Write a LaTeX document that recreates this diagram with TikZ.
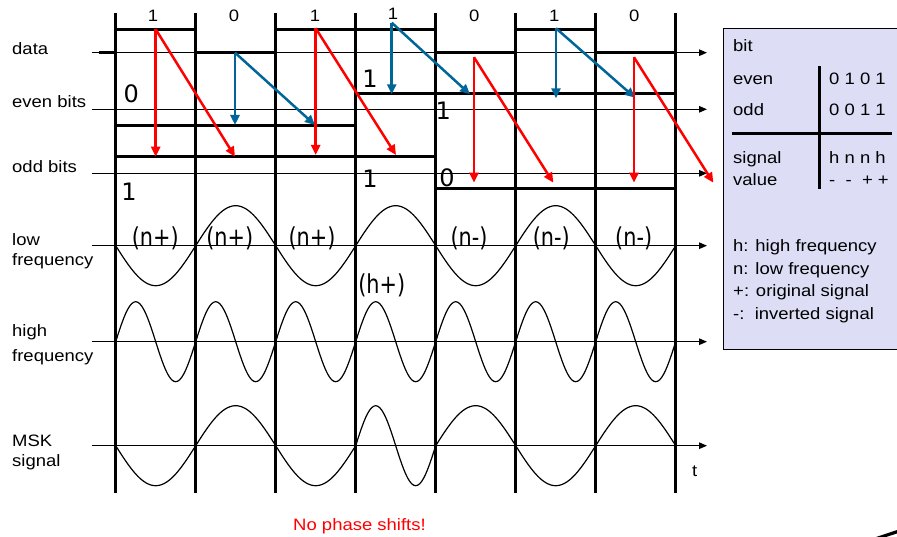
\documentclass[tikz,border=0pt]{standalone}
\usepackage{fontspec}
\setmainfont[FakeStretch=1.12]{Liberation Sans}
\newfontfamily\labfont[FakeStretch=0.8]{DejaVu Sans}
\newfontfamily\digfont{DejaVu Sans}
\usetikzlibrary{arrows.meta}
\definecolor{myred}{RGB}{255,0,0}
\definecolor{myblue}{RGB}{0,102,153}
\definecolor{boxfill}{RGB}{221,221,246}
\tikzset{
  txt/.style={font=\fontsize{16.5}{19}\selectfont, inner sep=0pt, anchor=base west},
  bitlbl/.style={font=\fontsize{16.5}{19}\selectfont, inner sep=0pt, anchor=base},
  biglbl/.style={font=\labfont\fontsize{26}{30}\selectfont, inner sep=0pt},
  diglbl/.style={font=\digfont\fontsize{24}{28}\selectfont, inner sep=0pt},
  sigline/.style={line width=2.7pt},
  gridline/.style={line width=2.5pt},
  axisline/.style={line width=1.2pt, -{Triangle[length=8pt,width=6.5pt]}},
  wave/.style={line width=1.2pt},
  redarr/.style={myred, line width=2.5pt, -{Triangle[length=10pt,width=9pt]}},
  bluearr/.style={myblue, line width=2.5pt, -{Triangle[length=10pt,width=9pt]}}
}
\begin{document}
\begin{tikzpicture}[x=1pt,y=-1pt]
\useasboundingbox (0,0) rectangle (897,537);

% bit boundaries
\foreach \i in {0,...,7}
  \draw[gridline] ({115.7+80*\i},13) -- ({115.7+80*\i},493);

% axes
\foreach \yy in {52.7,109.3,173.3,245.7,341.7,445.7}
  \draw[axisline] (91.7,\yy) -- (707,\yy);

% waves
\draw[wave] plot[domain=115.7:675.7, samples=281] (\x,{245.7+40*sin(2.25*(\x-115.7))});
\draw[wave] plot[domain=115.7:675.7, samples=281] (\x,{341.7-40*sin(4.5*(\x-115.7))});
\draw[wave] plot[domain=115.7:355.7, samples=121] (\x,{445.7+40*sin(2.25*(\x-115.7))});
\draw[wave] plot[domain=355.7:435.7, samples=41] (\x,{445.7-40*sin(4.5*(\x-355.7))});
\draw[wave] plot[domain=435.7:675.7, samples=121] (\x,{445.7-40*sin(2.25*(\x-115.7))});

% digital signals
\draw[sigline] (99,52.7) -- (115.7,52.7) -- (115.7,29.3) -- (195.7,29.3) -- (195.7,52.7)
  -- (275.7,52.7) -- (275.7,29.3) -- (435.7,29.3) -- (435.7,52.7) -- (515.7,52.7)
  -- (515.7,29.3) -- (595.7,29.3) -- (595.7,52.7) -- (675.7,52.7);
\draw[sigline] (114.5,125.3) -- (355.7,125.3) -- (355.7,93.3) -- (676.5,93.3);
\draw[sigline] (114.5,156.7) -- (435.7,156.7) -- (435.7,188.7) -- (676.5,188.7);

% arrow end points
\coordinate (a1) at (155.7,29.3);  \coordinate (a1v) at (155.7,156.7); \coordinate (a1d) at (235,156.7);
\coordinate (a2) at (235,52.7);    \coordinate (a2v) at (235,125);     \coordinate (a2d) at (315,125);
\coordinate (a3) at (315.7,28.3);  \coordinate (a3v) at (315.7,155);   \coordinate (a3d) at (396,155);
\coordinate (a4) at (391.7,22.7);  \coordinate (a4v) at (391.7,94.3);  \coordinate (a4d) at (470,94.3);
\coordinate (a5) at (474,57.3);    \coordinate (a5v) at (474,182.7);   \coordinate (a5d) at (553.3,182.7);
\coordinate (a6) at (556,28.3);    \coordinate (a6v) at (556,98.3);    \coordinate (a6d) at (635,97.7);
\coordinate (a7) at (634,57.3);    \coordinate (a7v) at (634,182.7);   \coordinate (a7d) at (713.3,182.7);

\draw[redarr] (a1) -- (a1v); \draw[redarr] (a1) -- (a1d);
\draw[bluearr] (a2) -- (a2v); \draw[bluearr] (a2) -- (a2d);
\draw[redarr] (a3) -- (a3v); \draw[redarr] (a3) -- (a3d);
\draw[bluearr] (a4) -- (a4v); \draw[bluearr] (a4) -- (a4d);
\draw[redarr] (a5) -- (a5v); \draw[redarr] (a5) -- (a5d);
\draw[bluearr] (a6) -- (a6v); \draw[bluearr] (a6) -- (a6d);
\draw[redarr] (a7) -- (a7v); \draw[redarr] (a7) -- (a7d);

% top bit labels
\node[bitlbl] (b1) at (153,21.4) {1};
\node[bitlbl] (b2) at (234,21.4) {0};
\node[bitlbl] (b3) at (315,21.4) {1};
\node[bitlbl] (b4) at (393,19.4) {1};
\node[bitlbl] (b5) at (474.3,21.4) {0};
\node[bitlbl] (b6) at (554.3,21.4) {1};
\node[bitlbl] (b7) at (634.3,21.4) {0};

% left labels
\node[txt] (ldata) at (12,54.4) {data};
\node[txt] (leven) at (12,107.6) {even bits};
\node[txt] (lodd) at (12,172.4) {odd bits};
\node[txt] (llow1) at (12,246) {low};
\node[txt] (llow2) at (12,266) {frequency};
\node[txt] (lhigh1) at (12,337) {high};
\node[txt] (lhigh2) at (12,361) {frequency};
\node[txt] (lmsk1) at (12,446) {MSK};
\node[txt] (lmsk2) at (12,466) {signal};
\node[txt] (lt) at (692,476) {t};

% even / odd bit values
\node[diglbl] (e1) at (131.3,93.3) {0};
\node[diglbl] (e2) at (370,78.7) {1};
\node[diglbl] (e3) at (443.3,110.8) {1};
\node[diglbl] (o1) at (129,191.5) {1};
\node[diglbl] (o2) at (370,178.5) {1};
\node[diglbl] (o3) at (447,178) {0};

% wave labels
\node[biglbl] (w1) at (155.3,238.7) {(n+)};
\node[biglbl] (w2) at (229.8,238.7) {(n+)};
\node[biglbl] (w3) at (312,238.7) {(n+)};
\node[biglbl] (w4) at (381.7,285.8) {(h+)};
\node[biglbl] (w5) at (469,238.7) {(n-)};
\node[biglbl] (w6) at (551.3,238.7) {(n-)};
\node[biglbl] (w7) at (633.7,238.7) {(n-)};

% legend box
\draw[fill=boxfill, line width=1pt] (723.3,28.3) rectangle (905,349.3);
\draw[line width=2.5pt] (731.7,133.3) -- (891.7,133.3);
\draw[line width=2.5pt] (819.3,66) -- (819.3,189.3);
\node[txt] (tbit) at (733,52) {bit};
\node[txt] (teven) at (733,84.5) {even};
\node[txt] (todd) at (733,116) {odd};
\node[txt] (teven2) at (829,84.5) {0 1 0 1};
\node[txt] (todd2) at (829,116) {0 0 1 1};
\node[txt] (tsig) at (733,164) {signal};
\node[txt] (tval) at (733,186) {value};
\node[txt] (tsig2) at (829,164) {h n n h};
\node[txt] (tval2) at (829,186) {-\ \ -\ \ +\ +};
\node[txt] (th) at (733,251.7) {h: high frequency};
\node[txt] (tn) at (733,274.4) {n: low frequency};
\node[txt] (tp) at (733,297) {+: original signal};
\node[txt] (tm) at (733,319.5) {-:\ \ inverted signal};

% caption
\node[bitlbl, text=myred] (cap) at (359.5,530) {No phase shifts!};

% corner stroke
\fill (876,537) -- (897,530) -- (897,533.5) -- (886,537) -- cycle;
\end{tikzpicture}
\end{document}
